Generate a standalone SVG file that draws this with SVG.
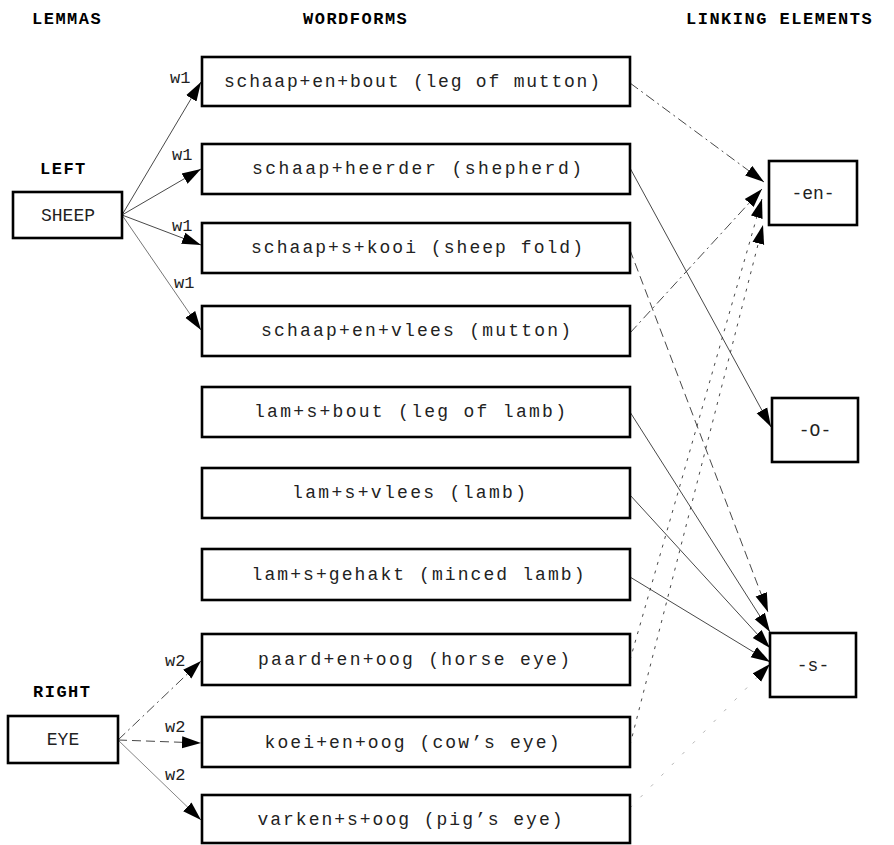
<svg xmlns="http://www.w3.org/2000/svg" width="894" height="845" viewBox="0 0 894 845">
<defs>
<marker id="ah" markerUnits="userSpaceOnUse" markerWidth="20" markerHeight="14" refX="19" refY="7" orient="auto">
<path d="M0,1 L19,7 L0,13 z" fill="#000"/>
</marker>
<style>
.box{fill:#fff;stroke:#000;stroke-width:2.6}
.t{font-family:"Liberation Mono","Courier New",monospace;font-size:18px;fill:#222;text-anchor:middle}
.h{font-family:"Liberation Mono","Courier New",monospace;font-size:17px;font-weight:bold;fill:#000;letter-spacing:1.5px}
.w{font-family:"Liberation Mono","Courier New",monospace;font-size:17px;fill:#222}
.c{fill:none;stroke:#333;stroke-width:0.9;marker-end:url(#ah)}
.dd{stroke-dasharray:10 4 2 4}
.dash{stroke-dasharray:9 5}
.dot{stroke-dasharray:3 6}
.faint{stroke:#aaa;stroke-dasharray:3 12}
</style>
</defs>
<rect width="894" height="845" fill="#fff"/>
<g id="headers">
<text class="h" x="32" y="24">LEMMAS</text>
<text class="h" x="303" y="24">WORDFORMS</text>
<text class="h" x="686" y="24">LINKING ELEMENTS</text>
<text class="h" x="40" y="174">LEFT</text>
<text class="h" x="33" y="697">RIGHT</text>
</g>
<g id="connectors">
<line class="c" x1="122" y1="215" x2="201" y2="82"/>
<line class="c" x1="122" y1="215" x2="201" y2="169"/>
<line class="c" x1="122" y1="215" x2="201" y2="245"/>
<line class="c" x1="122" y1="215" x2="201" y2="330" style="stroke:#666"/>
<line class="c dd" x1="118" y1="740" x2="201" y2="661"/>
<line class="c dash" x1="118" y1="740" x2="201" y2="743"/>
<line class="c" x1="118" y1="740" x2="201" y2="820" style="stroke:#777"/>
<line class="c dd" x1="630" y1="83" x2="764" y2="182"/>
<line class="c" x1="630" y1="168" x2="771" y2="427"/>
<line class="c dash" x1="630" y1="250" x2="768" y2="612"/>
<line class="c dd" x1="630" y1="333" x2="762" y2="189"/>
<line class="c" x1="630" y1="412" x2="770" y2="632"/>
<line class="c" x1="630" y1="495" x2="770" y2="648"/>
<line class="c" x1="630" y1="577" x2="770" y2="662"/>
<line class="c dot" x1="630" y1="660" x2="762" y2="199"/>
<line class="c dot" x1="630" y1="745" x2="763" y2="225"/>
<line class="c faint" x1="630" y1="808" x2="770" y2="664"/>
</g>
<g id="labels">
<text class="w" x="170" y="83">w1</text>
<text class="w" x="172" y="160">w1</text>
<text class="w" x="172" y="231">w1</text>
<text class="w" x="174" y="288">w1</text>
<text class="w" x="165" y="666">w2</text>
<text class="w" x="165" y="732">w2</text>
<text class="w" x="165" y="780">w2</text>
</g>
<g id="sheep"><rect class="box" x="13" y="192" width="109" height="46"/><text class="t" x="68" y="221">SHEEP</text></g>
<g id="eye"><rect class="box" x="8" y="716" width="110" height="47"/><text class="t" x="63" y="745">EYE</text></g>
<g id="wf1"><rect class="box" x="202" y="57" width="428" height="49"/><text class="t" x="412" y="87" textLength="376" lengthAdjust="spacing">schaap+en+bout (leg of mutton)</text></g>
<g id="wf2"><rect class="box" x="202" y="144" width="428" height="50"/><text class="t" x="417" y="174" textLength="330" lengthAdjust="spacing">schaap+heerder (shepherd)</text></g>
<g id="wf3"><rect class="box" x="202" y="223" width="428" height="50"/><text class="t" x="417" y="253" textLength="332" lengthAdjust="spacing">schaap+s+kooi (sheep fold)</text></g>
<g id="wf4"><rect class="box" x="202" y="306" width="428" height="50"/><text class="t" x="416" y="336" textLength="310" lengthAdjust="spacing">schaap+en+vlees (mutton)</text></g>
<g id="wf5"><rect class="box" x="202" y="387" width="428" height="50"/><text class="t" x="410" y="417" textLength="312" lengthAdjust="spacing">lam+s+bout (leg of lamb)</text></g>
<g id="wf6"><rect class="box" x="202" y="468" width="428" height="50"/><text class="t" x="409" y="498" textLength="234" lengthAdjust="spacing">lam+s+vlees (lamb)</text></g>
<g id="wf7"><rect class="box" x="202" y="549" width="428" height="51"/><text class="t" x="418" y="580" textLength="333" lengthAdjust="spacing">lam+s+gehakt (minced lamb)</text></g>
<g id="wf8"><rect class="box" x="202" y="634" width="428" height="51"/><text class="t" x="414" y="665" textLength="312" lengthAdjust="spacing">paard+en+oog (horse eye)</text></g>
<g id="wf9"><rect class="box" x="202" y="717" width="428" height="50"/><text class="t" x="412" y="748" textLength="295" lengthAdjust="spacing">koei+en+oog (cow’s eye)</text></g>
<g id="wf10"><rect class="box" x="202" y="795" width="428" height="48"/><text class="t" x="410" y="825" textLength="305" lengthAdjust="spacing">varken+s+oog (pig’s eye)</text></g>
<g id="en"><rect class="box" x="769" y="161" width="88" height="64"/><text class="t" x="813" y="199">-en-</text></g>
<g id="zero"><rect class="box" x="772" y="398" width="86" height="64"/><text class="t" x="815" y="436">-O-</text></g>
<g id="s"><rect class="box" x="770" y="633" width="86" height="64"/><text class="t" x="813" y="671">-s-</text></g>
</svg>
